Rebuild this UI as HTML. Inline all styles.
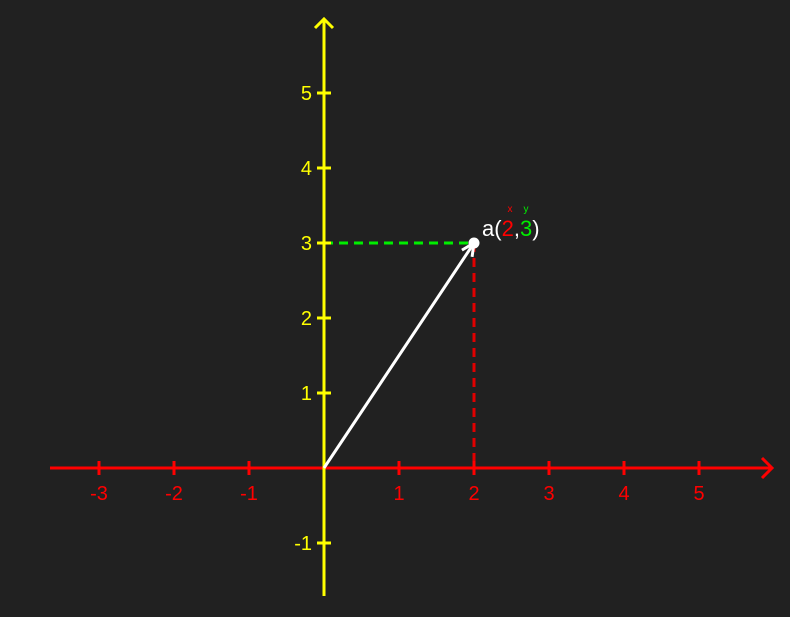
<!DOCTYPE html>
<html><head><meta charset="utf-8">
<style>
html,body{margin:0;padding:0;background:#212121;}
svg{display:block;font-family:"Liberation Sans",sans-serif;}
</style></head>
<body>
<svg id="chart" width="790" height="617" viewBox="0 0 790 617" xmlns="http://www.w3.org/2000/svg">
<rect width="790" height="617" fill="#212121"/>
</svg>
<script>
const xTicks = [-3,-2,-1,1,2,3,4,5];
const yTicks = [-1,1,2,3,4,5];
const vecX = [2];
const vecY = [3];
const vecName = ["a"];

const OX = 324, OY = 468, U = 75;
const sx = v => OX + v*U;
const sy = v => OY - v*U;
const svg = document.getElementById('chart');
const NS = 'http://www.w3.org/2000/svg';
function mk(tag, attrs, parent){
  const e = document.createElementNS(NS, tag);
  for (const k in attrs) e.setAttribute(k, attrs[k]);
  (parent||svg).appendChild(e);
  return e;
}
const RED='#ff0000', YEL='#ffff00', GRN='#00ee00';

const vx = sx(vecX[0]), vy = sy(vecY[0]);
let g1 = mk('line',{x1:OX,y1:vy,x2:vx,y2:vy,stroke:GRN,'stroke-width':3,'stroke-dasharray':'9,6'});


let g2 = mk('line',{x1:vx,y1:vy,x2:vx,y2:OY,stroke:'#e00000','stroke-width':3,'stroke-dasharray':'9,6'});



let xa = mk('line',{x1:50,y1:OY,x2:771,y2:OY,stroke:RED,'stroke-width':3});


let xh = mk('polyline',{points:`762,458 772,468 762,478`,fill:'none',stroke:RED,'stroke-width':3});


xTicks.forEach(t=>{
  const x = sx(t);
  const l = mk('line',{x1:x,y1:OY-7,x2:x,y2:OY+7,stroke:RED,'stroke-width':3});
  
  
  const tx = mk('text',{x:x,y:OY+32,fill:RED,'font-size':20,'text-anchor':'middle'});
  tx.textContent = t;
  
  
});

let ya = mk('line',{x1:OX,y1:19,x2:OX,y2:596,stroke:YEL,'stroke-width':3});


let yh = mk('polyline',{points:`315,28 324,19 333,28`,fill:'none',stroke:YEL,'stroke-width':3});


yTicks.forEach(t=>{
  const y = sy(t);
  const l = mk('line',{x1:OX-7,y1:y,x2:OX+7,y2:y,stroke:YEL,'stroke-width':3});
  
  
  const tx = mk('text',{x:312,y:y+7,fill:YEL,'font-size':20,'text-anchor':'end'});
  tx.textContent = t;
  
  
});

const ang = Math.atan2(vy-OY, vx-OX);
let vl = mk('line',{x1:OX,y1:OY,x2:vx,y2:vy,stroke:'#ffffff','stroke-width':3});


const L=14, a1=ang+Math.PI-0.45, a2=ang+Math.PI+0.45;
let vh = mk('polyline',{points:`${vx+L*Math.cos(a1)},${vy+L*Math.sin(a1)} ${vx},${vy} ${vx+L*Math.cos(a2)},${vy+L*Math.sin(a2)}`,fill:'none',stroke:'#ffffff','stroke-width':3});


let dot = mk('circle',{cx:vx,cy:vy,r:5.5,fill:'#ffffff'});



const lg = mk('g',{});


const lbl = mk('text',{x:vx+8,y:vy-7,'font-size':22,fill:'#ffffff'},lg);
const parts = [[vecName[0]+'(','#ffffff'],[String(vecX[0]),RED],[',','#ffffff'],[String(vecY[0]),GRN],[')','#ffffff']];
parts.forEach(p=>{const s=mk('tspan',{fill:p[1]},lbl); s.textContent=p[0];});
const sxl = mk('text',{x:vx+36,y:vy-31,'font-size':10,fill:RED,'text-anchor':'middle'},lg);
sxl.textContent='x';


const syl = mk('text',{x:vx+52,y:vy-31,'font-size':10,fill:GRN,'text-anchor':'middle'},lg);
syl.textContent='y';


</script>
</body></html>
